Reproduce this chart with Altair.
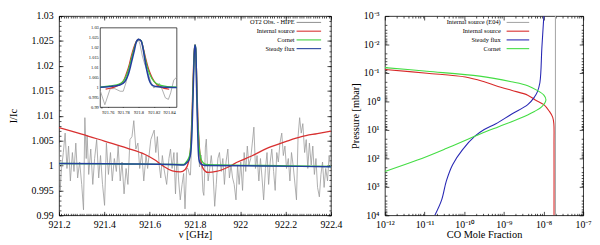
import altair as alt
import pandas as pd

FONT = "Liberation Serif"

# ---------------- left panel: spectrum (frequency GHz, I/Ic) ----------------
OBS = [
    (921.200, 1.0045), (921.205, 0.9950), (921.211, 0.9994), (921.219, 1.0026), (921.227, 1.0065),
    (921.235, 0.9994), (921.242, 1.0039), (921.250, 0.9969), (921.259, 1.0026), (921.266, 0.9988),
    (921.274, 1.0045), (921.282, 0.9975), (921.291, 1.0007), (921.300, 0.9962), (921.308, 0.9911),
    (921.314, 1.0096), (921.320, 1.0014), (921.324, 1.0061), (921.331, 0.9982), (921.340, 1.0033),
    (921.349, 0.9962), (921.357, 1.0014), (921.366, 1.0052), (921.375, 0.9975), (921.383, 1.0020),
    (921.392, 0.9962), (921.401, 0.9920), (921.409, 1.0045), (921.418, 0.9982), (921.427, 1.0026),
    (921.435, 0.9969), (921.444, 1.0014), (921.453, 0.9988), (921.461, 1.0039), (921.470, 0.9969),
    (921.478, 1.0007), (921.487, 0.9943), (921.496, 0.9994), (921.504, 0.9962), (921.513, 1.0052),
    (921.522, 1.0058), (921.530, 1.0090), (921.539, 1.0033), (921.548, 1.0045), (921.556, 0.9994),
    (921.565, 1.0026), (921.574, 0.9969),
    (921.584, 1.0020), (921.591, 0.9994), (921.605, 1.0052), (921.620, 1.0071), (921.627, 1.0026),
    (921.634, 1.0058), (921.642, 1.0001), (921.649, 0.9975), (921.656, 1.0020), (921.663, 0.9994),
    (921.675, 0.9962), (921.685, 1.0014), (921.692, 1.0033), (921.699, 0.9994), (921.707, 1.0026),
    (921.714, 0.9943), (921.721, 1.0026), (921.728, 0.9969), (921.735, 0.9931), (921.743, 0.9962),
    (921.750, 0.9984), (921.756, 0.9913), (921.763, 0.9994), (921.769, 0.9994), (921.776, 0.9981),
    (921.780, 0.9981), (921.784, 1.0029), (921.788, 1.0110), (921.793, 1.0182), (921.797, 1.0231),
    (921.800, 1.0239), (921.802, 1.0215), (921.805, 1.0158), (921.808, 1.0118), (921.812, 1.0077),
    (921.816, 1.0029), (921.820, 0.9997), (921.825, 1.0013), (921.827, 1.0021), (921.831, 0.9989),
    (921.835, 0.9948), (921.839, 0.9940), (921.842, 0.9973), (921.846, 1.0037), (921.850, 1.0053),
    (921.858, 0.9969), (921.865, 0.9994), (921.872, 1.0020), (921.880, 0.9982), (921.887, 0.9918),
    (921.894, 0.9962), (921.901, 1.0014), (921.908, 1.0026), (921.916, 0.9988), (921.923, 1.0014),
    (921.930, 0.9962), (921.937, 1.0007), (921.945, 1.0033), (921.952, 0.9975), (921.959, 1.0001),
    (921.966, 0.9975), (921.973, 0.9962), (921.981, 0.9931), (921.988, 1.0001), (921.995, 0.9962),
    (922.002, 1.0007), (922.010, 0.9950), (922.017, 1.0026), (922.024, 0.9988), (922.031, 1.0039),
    (922.038, 1.0001), (922.046, 1.0014), (922.053, 1.0045), (922.060, 1.0077), (922.067, 0.9994),
    (922.074, 1.0020), (922.082, 0.9969), (922.089, 1.0014), (922.096, 0.9975), (922.103, 0.9931),
    (922.111, 0.9994), (922.118, 1.0026), (922.125, 0.9962), (922.132, 1.0007), (922.139, 1.0033),
    (922.147, 0.9988), (922.154, 0.9950), (922.161, 1.0026), (922.168, 1.0007), (922.175, 1.0045),
    (922.183, 1.0065), (922.190, 1.0020), (922.197, 1.0039), (922.204, 0.9994), (922.212, 1.0014),
    (922.219, 0.9969), (922.226, 1.0026), (922.233, 1.0001), (922.240, 0.9969), (922.248, 0.9931),
    (922.255, 1.0058), (922.262, 1.0096), (922.269, 1.0065), (922.276, 1.0084), (922.284, 1.0026),
    (922.291, 1.0052), (922.298, 0.9994), (922.305, 1.0045), (922.313, 1.0001), (922.320, 1.0039),
    (922.327, 0.9982), (922.334, 1.0014), (922.341, 0.9956), (922.349, 0.9937), (922.356, 0.9982),
    (922.363, 1.0007), (922.370, 0.9956), (922.377, 0.9994), (922.385, 0.9969), (922.392, 1.0020),
    (922.400, 0.9994),
]

RED = [
    (921.200, 1.0076), (921.300, 1.0063), (921.400, 1.0049), (921.500, 1.0035), (921.580, 1.0022),
    (921.620, 1.0012), (921.663, 0.9998), (921.700, 0.9989), (921.735, 0.9987), (921.757, 0.9992),
    (921.771, 1.0006), (921.780, 1.0032), (921.784, 1.0069), (921.7875, 1.0110), (921.7905, 1.0158),
    (921.7935, 1.0198), (921.797, 1.0231), (921.800, 1.0242), (921.8037, 1.0231), (921.8067, 1.0190),
    (921.8096, 1.0142), (921.813, 1.0094), (921.8173, 1.0053), (921.8224, 1.0021), (921.8288, 1.0003),
    (921.840, 0.9991), (921.858, 0.9986), (921.894, 0.9988), (921.952, 0.9998), (921.988, 1.0007),
    (922.050, 1.0019), (922.125, 1.0036), (922.200, 1.0048), (922.270, 1.0058), (922.340, 1.0064),
    (922.400, 1.0069),
]

GREEN = [
    (921.200, 1.0004), (921.500, 1.0003), (921.700, 1.0002), (921.750, 1.0002), (921.7628, 1.0008),
    (921.7756, 1.0019), (921.7811, 1.0037), (921.7854, 1.0073), (921.7883, 1.0110), (921.7913, 1.0155),
    (921.7943, 1.0198), (921.7973, 1.0231), (921.800, 1.0242), (921.8037, 1.0234), (921.8062, 1.0194),
    (921.8088, 1.0145), (921.8118, 1.0097), (921.8152, 1.0061), (921.8203, 1.0029), (921.8267, 1.0013),
    (921.8373, 1.0005), (921.850, 1.0002), (921.900, 1.0001), (922.100, 1.0000), (922.400, 0.9998),
]

BLUE = [
    (921.200, 1.0004), (921.500, 1.0003), (921.700, 1.0002), (921.750, 1.0001), (921.7628, 1.0005),
    (921.7756, 1.0013), (921.7820, 1.0029), (921.7862, 1.0061), (921.7892, 1.0102), (921.7917, 1.0142),
    (921.7947, 1.0190), (921.7969, 1.0226), (921.800, 1.0242), (921.8032, 1.0235), (921.8054, 1.0206),
    (921.8075, 1.0158), (921.8096, 1.0110), (921.8118, 1.0069), (921.8139, 1.0037), (921.8173, 1.0013),
    (921.8224, 1.0005), (921.8352, 1.0001), (921.850, 1.0000), (922.100, 0.9999), (922.400, 0.99976),
]

# ---------------- right panel: CO profiles (mole fraction, pressure mbar) ----------------
E04 = [(2.0e-8, 1e-3), (2.0e-8, 1e4)]
INTERNAL = [
    (1.0e-12, 0.075), (1.15e-11, 0.102), (1.07e-10, 0.139), (3.2e-10, 0.204), (6.3e-10, 0.279),
    (1.55e-9, 0.407), (4.0e-9, 0.60), (6.2e-9, 0.885), (1.02e-8, 1.30), (1.41e-8, 2.24),
    (1.70e-8, 3.55), (1.82e-8, 6.0), (1.84e-8, 31.6), (1.84e-8, 1e4),
]
STEADY = [
    (1.82e-11, 1e4), (2.7e-11, 2880), (3.55e-11, 617), (5.1e-11, 166), (9.1e-11, 49),
    (1.86e-10, 16.6), (3.2e-10, 9.7), (6.3e-10, 6.1), (1.55e-9, 2.8), (4.0e-9, 1.30),
    (5.9e-9, 0.70), (6.9e-9, 0.48), (8.1e-9, 0.22), (9.1e-9, 0.0127), (1.02e-8, 0.001),
]
CORNET = [
    (1.0e-12, 0.0646), (1.15e-11, 0.087), (2.45e-10, 0.129), (1.55e-9, 0.204), (4.0e-9, 0.279),
    (6.9e-9, 0.407), (1.02e-8, 0.603), (1.15e-8, 0.885), (9.1e-9, 1.51), (5.9e-9, 2.24),
    (2.3e-9, 4.17), (7.4e-10, 7.7), (2.45e-10, 14.1), (3.5e-11, 45), (6.6e-12, 115), (1.0e-12, 290),
]

# ---------------- ticks, names, colours ----------------
MAIN_V = [921.2, 922.4]
MAIN_I = [0.99, 1.03]
INSET_V = [921.75, 921.85]
INSET_I = [0.99, 1.03]
MAIN_X_TICKS = [921.2, 921.4, 921.6, 921.8, 922.0, 922.2, 922.4]
Y_TICKS = [0.99, 0.995, 1.0, 1.005, 1.01, 1.015, 1.02, 1.025, 1.03]
INSET_X_TICKS = [921.76, 921.78, 921.8, 921.82, 921.84]
MAIN_X_MINOR = [round(921.2 + 0.01 * k, 2) for k in range(121)]
MAIN_Y_MINOR = [round(0.99 + 0.001 * k, 3) for k in range(41)]
R_X_TICKS = [1e-12, 1e-11, 1e-10, 1e-9, 1e-8, 1e-7]
R_Y_TICKS = [1e-3, 1e-2, 1e-1, 1e0, 1e1, 1e2, 1e3, 1e4]
R_X_MINOR = [m * t for t in R_X_TICKS[:-1] for m in range(2, 10)]
R_Y_MINOR = [m * t for t in R_Y_TICKS[:-1] for m in range(2, 10)]
SUP = {1e-12: "⁻¹²", 1e-11: "⁻¹¹", 1e-10: "⁻¹⁰", 1e-9: "⁻⁹", 1e-8: "⁻⁸", 1e-7: "⁻⁷",
       1e-3: "⁻³", 1e-2: "⁻²", 1e-1: "⁻¹", 1e0: "⁰", 1e1: "¹", 1e2: "²", 1e3: "³", 1e4: "⁴"}

LEFT_NAMES = ["OT2 Obs. - HIPE", "Internal source", "Cornet", "Steady flux"]
LEFT_COLORS = ["#9a9a9a", "#d83030", "#3dcf3d", "#23409e"]
RIGHT_NAMES = ["Internal source (E04)", "Internal source", "Steady flux", "Cornet"]
RIGHT_COLORS = ["#aaaaaa", "#d82a2a", "#2828b4", "#44dd44"]

W1, W2, H = 277, 202, 203
LEG_ROWS = [6.5, 15.4, 24.3, 33.2]
MAJ, MIN = 4, 2
INSET_X_RANGE = [42, 120]
INSET_Y_RANGE = [93, 12]


def table(pairs, name, a, b):
    return pd.DataFrame({a: [p[0] for p in pairs], b: [p[1] for p in pairs],
                         "s": name, "k": list(range(len(pairs)))})


left_df = pd.concat([table(OBS, LEFT_NAMES[0], "v", "i"), table(RED, LEFT_NAMES[1], "v", "i"),
                     table(GREEN, LEFT_NAMES[2], "v", "i"), table(BLUE, LEFT_NAMES[3], "v", "i")],
                    ignore_index=True)
right_df = pd.concat([table(E04, RIGHT_NAMES[0], "x", "p"), table(INTERNAL, RIGHT_NAMES[1], "x", "p"),
                      table(STEADY, RIGHT_NAMES[2], "x", "p"), table(CORNET, RIGHT_NAMES[3], "x", "p")],
                     ignore_index=True)


def key_layers(names, colors, text_right, line_from, line_to):
    """gnuplot-style key: label on the left, line sample on the right"""
    out = []
    for name, col, yy in zip(names, colors, LEG_ROWS):
        d = pd.DataFrame({"s": [name]})
        out.append(alt.Chart(d).mark_text(align="right", baseline="middle", font=FONT, fontSize=6.5,
                                          color="black")
                   .encode(x=alt.value(text_right), y=alt.value(yy), text="s:N"))
        out.append(alt.Chart(d).mark_rule(color=col, strokeWidth=1.1)
                   .encode(x=alt.value(line_from), x2=alt.value(line_to), y=alt.value(yy)))
    return out


def tick_child(xscale, yscale, xdom, ydom, xorient, yorient, xvals, yvals, size):
    """invisible layer that only carries inward-pointing tick marks on two edges"""
    d = pd.DataFrame({"a": xdom, "b": ydom})
    common = dict(labels=False, domain=False, tickSize=size, title=None, grid=False, offset=-size)
    return alt.Chart(d).mark_point(opacity=0).encode(
        x=alt.X("a:Q", scale=xscale, axis=alt.Axis(orient=xorient, values=xvals, **common)),
        y=alt.Y("b:Q", scale=yscale, axis=alt.Axis(orient=yorient, values=yvals, **common)))


# ---- main spectrum ----
xs_main = alt.Scale(domain=MAIN_V, nice=False, zero=False)
ys_main = alt.Scale(domain=MAIN_I, nice=False, zero=False)
ax_main_x = alt.Axis(values=MAIN_X_TICKS, format="~f", title="ν [GHz]", labelFlush=False,
                     labelOverlap=False, titlePadding=1, offset=-MAJ, tickSize=MAJ, domain=False,
                     labelPadding=4)
ax_main_y = alt.Axis(values=Y_TICKS, format="~f", title="I/Ic", labelOverlap=False, titlePadding=13,
                     offset=-MAJ, tickSize=MAJ, domain=False, labelPadding=6)
left_color = alt.Color("s:N", scale=alt.Scale(domain=LEFT_NAMES, range=LEFT_COLORS), legend=None)

styles_left = [(LEFT_NAMES[0], 0.8, "linear"), (LEFT_NAMES[1], 1.3, "monotone"),
               (LEFT_NAMES[2], 1.3, "monotone"), (LEFT_NAMES[3], 1.5, "monotone")]

main_layers = [
    alt.Chart(left_df).transform_filter(alt.datum.s == n)
    .mark_line(strokeWidth=w, interpolate=interp, clip=True)
    .encode(x=alt.X("v:Q", scale=xs_main, axis=ax_main_x),
            y=alt.Y("i:Q", scale=ys_main, axis=ax_main_y),
            color=left_color, order="k:Q")
    for n, w, interp in styles_left
]
main = alt.layer(*main_layers)

# ---- inset ----
xs_in = alt.Scale(domain=INSET_V, range=INSET_X_RANGE, nice=False, zero=False)
ys_in = alt.Scale(domain=INSET_I, range=INSET_Y_RANGE, nice=False, zero=False)
ax_in_x = alt.Axis(orient="bottom", offset=-(H - INSET_Y_RANGE[0]) - MIN, values=INSET_X_TICKS, format="~f",
                   title=None, labelFontSize=4.5, tickSize=MIN, labelPadding=2, labelFlush=False,
                   labelOverlap=False, domain=False)
ax_in_y = alt.Axis(orient="left", offset=-INSET_X_RANGE[0] - MIN, values=Y_TICKS, format="~f", title=None,
                   labelFontSize=4.5, tickSize=MIN, labelPadding=2, labelOverlap=False, domain=False)
inset_color = alt.Color("s:N", scale=alt.Scale(domain=LEFT_NAMES, range=LEFT_COLORS), legend=None)

frame_df = pd.DataFrame({"v0": [INSET_V[0]], "v1": [INSET_V[1]], "i0": [INSET_I[0]], "i1": [INSET_I[1]]})
inset_frame = alt.Chart(frame_df).mark_rect(fill="white", stroke="black", strokeWidth=0.7).encode(
    x=alt.X("v0:Q", scale=xs_in, axis=ax_in_x), x2="v1:Q",
    y=alt.Y("i0:Q", scale=ys_in, axis=ax_in_y), y2="i1:Q")

styles_inset = [(LEFT_NAMES[0], 0.8, "linear"), (LEFT_NAMES[1], 1.2, "monotone"),
                (LEFT_NAMES[2], 1.2, "monotone"), (LEFT_NAMES[3], 1.6, "monotone")]
inset_layers = [
    alt.Chart(left_df).transform_filter(alt.datum.s == n)
    .transform_filter(alt.FieldRangePredicate(field="v", range=INSET_V))
    .mark_line(strokeWidth=w, interpolate=interp)
    .encode(x=alt.X("v:Q", scale=xs_in, axis=ax_in_x),
            y=alt.Y("i:Q", scale=ys_in, axis=ax_in_y),
            color=inset_color, order="k:Q")
    for n, w, interp in styles_inset
]
inset = alt.layer(inset_frame, *inset_layers)

left = alt.layer(
    main, inset,
    tick_child(xs_main, ys_main, MAIN_V, MAIN_I, "top", "right", MAIN_X_TICKS, Y_TICKS, MAJ),
    tick_child(xs_main, ys_main, MAIN_V, MAIN_I, "bottom", "left", MAIN_X_MINOR, MAIN_Y_MINOR, MIN),
    tick_child(xs_main, ys_main, MAIN_V, MAIN_I, "top", "right", MAIN_X_MINOR, MAIN_Y_MINOR, MIN),
    *key_layers(LEFT_NAMES, LEFT_COLORS, 240, 242, 267)
).resolve_scale(x="independent", y="independent", color="independent").properties(width=W1, height=H)


# ---- right panel ----
def sup_expr(ticks):
    parts = [f"datum.value < {t * 3:.0e} ? '10{SUP[t]}'" for t in ticks]
    return " : ".join(parts) + " : ''"


R_X_DOM = [R_X_TICKS[0], R_X_TICKS[-1]]
R_Y_DOM = [R_Y_TICKS[0], R_Y_TICKS[-1]]
xs_r = alt.Scale(type="log", domain=R_X_DOM, nice=False)
ys_r = alt.Scale(type="log", domain=R_Y_DOM, nice=False, reverse=True)
ax_r_x = alt.Axis(values=R_X_TICKS, labelExpr=sup_expr(R_X_TICKS), title="CO Mole Fraction",
                  labelFlush=False, labelOverlap=False, titlePadding=1, offset=-MAJ, tickSize=MAJ,
                  domain=False, labelPadding=4)
ax_r_y = alt.Axis(values=R_Y_TICKS, labelExpr=sup_expr(R_Y_TICKS), title="Pressure [mbar]",
                  labelOverlap=False, titlePadding=3, offset=-MAJ, tickSize=MAJ, domain=False,
                  labelPadding=6)
right_color = alt.Color("s:N", scale=alt.Scale(domain=RIGHT_NAMES, range=RIGHT_COLORS), legend=None)

right_layers = [
    alt.Chart(right_df).transform_filter(alt.datum.s == n)
    .mark_line(strokeWidth=1.1, interpolate=("linear" if n == RIGHT_NAMES[0] else "catmull-rom"), clip=True)
    .encode(x=alt.X("x:Q", scale=xs_r, axis=ax_r_x),
            y=alt.Y("p:Q", scale=ys_r, axis=ax_r_y),
            color=right_color, order="k:Q")
    for n in RIGHT_NAMES
]
right = alt.layer(
    alt.layer(*right_layers),
    tick_child(xs_r, ys_r, R_X_DOM, R_Y_DOM, "top", "right", R_X_TICKS, R_Y_TICKS, MAJ),
    tick_child(xs_r, ys_r, R_X_DOM, R_Y_DOM, "bottom", "left", R_X_MINOR, R_Y_MINOR, MIN),
    tick_child(xs_r, ys_r, R_X_DOM, R_Y_DOM, "top", "right", R_X_MINOR, R_Y_MINOR, MIN),
    *key_layers(RIGHT_NAMES, RIGHT_COLORS, 118, 124, 147)
).resolve_scale(x="independent", y="independent").properties(width=W2, height=H)

chart = alt.hconcat(left, right, spacing=7).properties(padding=0).configure_view(
    stroke="black", strokeWidth=0.8
).configure_axis(
    labelFont=FONT, titleFont=FONT, labelColor="black", titleColor="black", labelFontSize=10,
    titleFontSize=10.5, titleFontWeight="normal", domainColor="black", tickColor="black",
    domainWidth=0.8, tickWidth=0.7, grid=False
)

chart.save("out.html", embed_options={"renderer": "svg", "actions": False})
